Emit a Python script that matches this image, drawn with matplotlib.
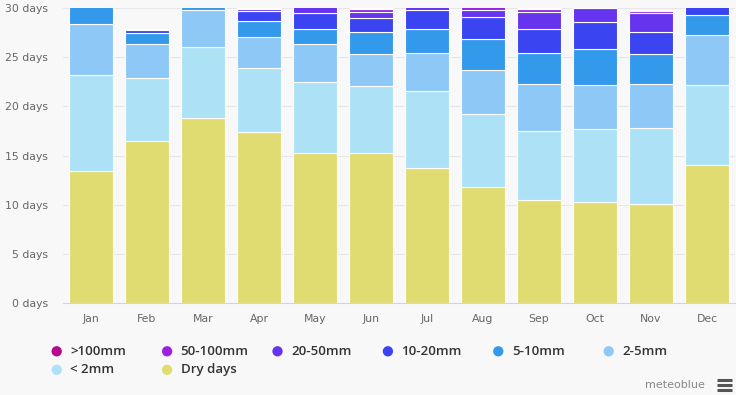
import numpy as np
import matplotlib.pyplot as plt

# monthly precipitation-day counts (days)
months = ['Jan', 'Feb', 'Mar', 'Apr', 'May', 'Jun', 'Jul', 'Aug', 'Sep', 'Oct', 'Nov', 'Dec']
dry_days = [13.4, 16.45, 18.8, 17.35, 15.25, 15.25, 13.7, 11.75, 10.45, 10.3, 10.1, 14.0]
lt_2mm = [9.8, 6.45, 7.25, 6.55, 7.25, 6.8, 7.9, 7.45, 7.05, 7.35, 7.65, 8.15]
mm_2_5 = [5.2, 3.45, 3.75, 3.15, 3.8, 3.25, 3.85, 4.45, 4.75, 4.5, 4.5, 5.1]
mm_5_10 = [1.8, 1.15, 1.0, 1.6, 1.6, 2.25, 2.4, 3.15, 3.15, 3.65, 3.05, 2.0]
mm_10_20 = [0.8, 0.3, 0.2, 1.0, 1.55, 1.4, 1.9, 2.3, 2.5, 2.8, 2.3, 1.2]
mm_20_50 = [0.0, 0.1, 0.0, 0.25, 1.2, 0.65, 0.9, 0.7, 1.65, 1.4, 1.85, 0.5]
mm_50_100 = [0.0, 0.0, 0.0, 0.1, 0.3, 0.25, 0.25, 0.8, 0.3, 0.4, 0.25, 0.0]
gt_100mm = [0.0, 0.0, 0.0, 0.0, 0.05, 0.15, 0.1, 0.4, 0.15, 0.1, 0.0, 0.0]

series = [
    ('Dry days', dry_days, '#e1dc72'),
    ('< 2mm', lt_2mm, '#ade2f6'),
    ('2-5mm', mm_2_5, '#8dc8f7'),
    ('5-10mm', mm_5_10, '#3399ea'),
    ('10-20mm', mm_10_20, '#3a44f0'),
    ('20-50mm', mm_20_50, '#6633ee'),
    ('50-100mm', mm_50_100, '#9a22e0'),
    ('>100mm', gt_100mm, '#b5068e'),
]

BG = '#f8f8f8'
fig = plt.figure(figsize=(7.36, 3.95), dpi=100, facecolor=BG)
ax = fig.add_axes([63/736, 92/395, 672/736, 295/395], facecolor=BG)

x = np.arange(len(months))
bottom = np.zeros(len(months))
for name, vals, col in series:
    vals = np.array(vals)
    ax.bar(x, vals, width=0.785, bottom=bottom, color=col,
           edgecolor='white', linewidth=0.8, zorder=2)
    bottom += vals

ax.set_xlim(-0.5, 11.5)
ax.set_ylim(0, 30)
ax.set_yticks(np.arange(0, 31, 5))
ax.set_yticklabels(['%d days' % v for v in range(0, 31, 5)])
ax.set_xticks(x)
ax.set_xticklabels(months)
ax.tick_params(axis='both', length=0, labelsize=7.8, labelcolor='#666666')
ax.tick_params(axis='y', pad=11)
ax.tick_params(axis='x', pad=8)
ax.grid(axis='y', color='#e6e6e6', linewidth=0.8, zorder=0)
for s in ['top', 'right', 'left']:
    ax.spines[s].set_visible(False)
ax.spines['bottom'].set_color('#ccd6eb')
ax.spines['bottom'].set_linewidth(0.8)

# legend drawn in pixel coordinates (fixed-width columns like highcharts)
lax = fig.add_axes([0, 0, 1, 1], facecolor='none')
lax.set_xlim(0, 736)
lax.set_ylim(395, 0)
lax.axis('off')
legend_order = ['>100mm', '50-100mm', '20-50mm', '10-20mm', '5-10mm', '2-5mm', '< 2mm', 'Dry days']
colors = {name: col for name, vals, col in series}
for i, name in enumerate(legend_order):
    cx = 56.7 + (i % 6) * 110.4
    cy = 351.3 + (i // 6) * 18.5
    lax.scatter([cx], [cy], s=55, color=colors[name], edgecolors='none')
    lax.text(cx + 13.5, cy, name, fontsize=9.5, fontweight='semibold',
             color='#333333', va='center', ha='left', family='Open Sans')

lax.text(705, 385, 'meteoblue', fontsize=8, color='#888888', ha='right', va='center')
for yy in [379.5, 384.5, 389.5]:
    lax.plot([717, 732], [yy, yy], color='#555555', linewidth=2.2, solid_capstyle='butt')

plt.savefig('out.png', dpi=100, facecolor=BG)
